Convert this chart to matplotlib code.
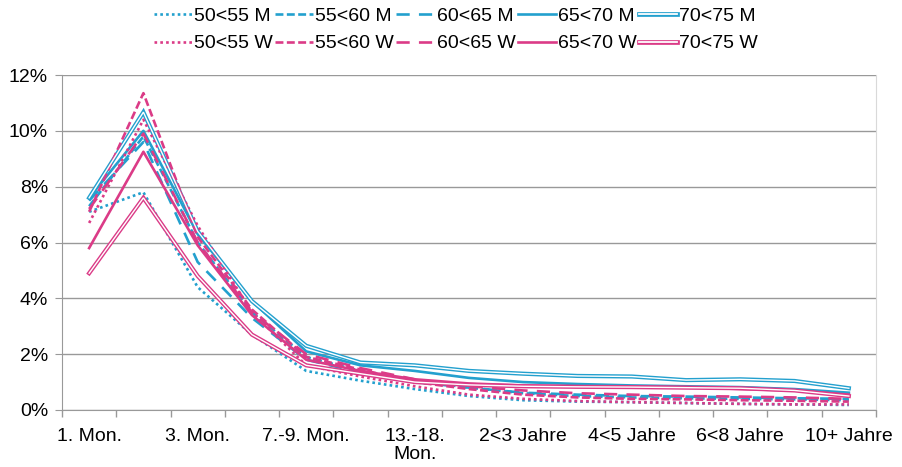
import matplotlib
matplotlib.use("Agg")
import matplotlib.pyplot as plt
import numpy as np
from matplotlib.lines import Line2D
from matplotlib.legend_handler import HandlerTuple
from matplotlib.ticker import FuncFormatter, FixedLocator

plt.rcParams['font.family'] = ['Liberation Sans', 'DejaVu Sans']

categories = ["1. Mon.", "2. Mon.", "3. Mon.", "4.-6. Mon.", "7.-9. Mon.", "10.-12. Mon.",
              "13.-18.\nMon.", "19.-24. Mon.", "2<3 Jahre", "3<4 Jahre", "4<5 Jahre",
              "5<6 Jahre", "6<8 Jahre", "8<10 Jahre", "10+ Jahre"]

m_50_55 = [7.1, 7.8, 4.4, 2.7, 1.4, 1.05, 0.75, 0.5, 0.35, 0.3, 0.28, 0.25, 0.22, 0.2, 0.18]
w_50_55 = [6.7, 10.4, 6.6, 3.5, 1.6, 1.2, 0.85, 0.55, 0.4, 0.32, 0.28, 0.25, 0.22, 0.2, 0.2]
m_55_60 = [7.3, 9.8, 6.0, 3.5, 1.9, 1.4, 1.05, 0.8, 0.6, 0.5, 0.45, 0.42, 0.4, 0.38, 0.35]
w_55_60 = [7.1, 11.35, 6.2, 3.6, 1.9, 1.45, 1.0, 0.75, 0.55, 0.45, 0.4, 0.38, 0.35, 0.33, 0.3]
m_60_65 = [7.5, 9.6, 5.3, 3.3, 1.8, 1.35, 1.0, 0.8, 0.62, 0.55, 0.5, 0.48, 0.45, 0.42, 0.4]
w_60_65 = [7.2, 9.9, 6.0, 3.5, 2.0, 1.5, 1.1, 0.85, 0.7, 0.6, 0.55, 0.5, 0.48, 0.45, 0.4]
m_65_70 = [7.6, 10.0, 6.3, 3.9, 2.1, 1.6, 1.4, 1.15, 1.0, 0.93, 0.88, 0.85, 0.82, 0.75, 0.62]
w_65_70 = [5.8, 9.25, 5.9, 3.4, 1.8, 1.4, 1.1, 0.95, 0.88, 0.85, 0.83, 0.82, 0.75, 0.7, 0.55]
m_70_75 = [7.6, 10.67, 6.4, 3.9, 2.3, 1.7, 1.6, 1.4, 1.3, 1.22, 1.2, 1.07, 1.1, 1.04, 0.78]
w_70_75 = [4.9, 7.6, 4.8, 2.7, 1.6, 1.3, 1.0, 0.9, 0.85, 0.83, 0.82, 0.8, 0.78, 0.7, 0.5]

BLUE = "#23A0CE"
PINK = "#DB3B87"
FS = 14

fig = plt.figure(figsize=(9.02, 4.67), dpi=100)
ax = fig.add_axes([62/902, 1-410/467, (876-62)/902, (410-75)/467])

x = np.arange(len(categories))
styles = {
    "dot": dict(linestyle=(0, (1, 1.2)), linewidth=1.9),
    "dash": dict(linestyle=(0, (3, 1.3)), linewidth=1.9),
    "ldash": dict(linestyle=(0, (5, 3.5)), linewidth=1.9),
    "solid": dict(linestyle="-", linewidth=1.9),
}

series = [
    ("50<55 M", m_50_55, BLUE, "dot"),
    ("55<60 M", m_55_60, BLUE, "dash"),
    ("60<65 M", m_60_65, BLUE, "ldash"),
    ("65<70 M", m_65_70, BLUE, "solid"),
    ("70<75 M", m_70_75, BLUE, "double"),
    ("50<55 W", w_50_55, PINK, "dot"),
    ("55<60 W", w_55_60, PINK, "dash"),
    ("60<65 W", w_60_65, PINK, "ldash"),
    ("65<70 W", w_65_70, PINK, "solid"),
    ("70<75 W", w_70_75, PINK, "double"),
]

handles = {}
for name, vals, col, st in series:
    if st == "double":
        ax.plot(x, vals, color=col, linewidth=3.0, solid_joinstyle="miter", zorder=3)
        ax.plot(x, vals, color="white", linewidth=1.0, solid_joinstyle="miter", zorder=3.1)
        h = (Line2D([], [], color=col, linewidth=3.4), Line2D([], [], color="white", linewidth=1.3))
    else:
        ax.plot(x, vals, color=col, zorder=3, **styles[st])
        h = Line2D([], [], color=col, **styles[st])
    handles[name] = h

order = ["50<55 M", "55<60 M", "60<65 M", "65<70 M", "70<75 M",
         "50<55 W", "55<60 W", "60<65 W", "65<70 W", "70<75 W"]
leg_order = []
for i in range(5):
    leg_order.append(order[i])
    leg_order.append(order[i + 5])
fig.legend([handles[n] for n in leg_order], leg_order, loc="center",
           bbox_to_anchor=(456/902, 1-30/467), ncol=5, frameon=False,
           fontsize=FS, handlelength=1.95, handletextpad=0.12, columnspacing=0.12,
           labelspacing=0.5, handler_map={tuple: HandlerTuple(ndivide=1)})

ax.set_xlim(-0.5, len(categories) - 0.5)
ax.set_ylim(0, 12)
ax.set_yticks(np.arange(0, 13, 2))
ax.yaxis.set_major_formatter(FuncFormatter(lambda v, p: f"{int(v)}%"))
ax.grid(axis="y", color="#999999", linewidth=1.0)
ax.set_axisbelow(True)

ax.set_xticks(x[::2])
ax.set_xticklabels([categories[i] for i in x[::2]], linespacing=1.1)
ax.xaxis.set_minor_locator(FixedLocator(np.arange(-0.5, len(categories), 1)))
ax.tick_params(axis="x", which="major", length=0, labelsize=FS, pad=13, colors="black")
ax.tick_params(axis="x", which="minor", length=5, color="#999999", width=1)
ax.tick_params(axis="y", length=5, color="#999999", labelsize=FS, pad=5, labelcolor="black")

ax.spines["top"].set_visible(False)
ax.spines["left"].set_color("#999999")
ax.spines["bottom"].set_color("#999999")
ax.spines["right"].set_color("#d9d9d9")

fig.savefig("out.png", dpi=100)
